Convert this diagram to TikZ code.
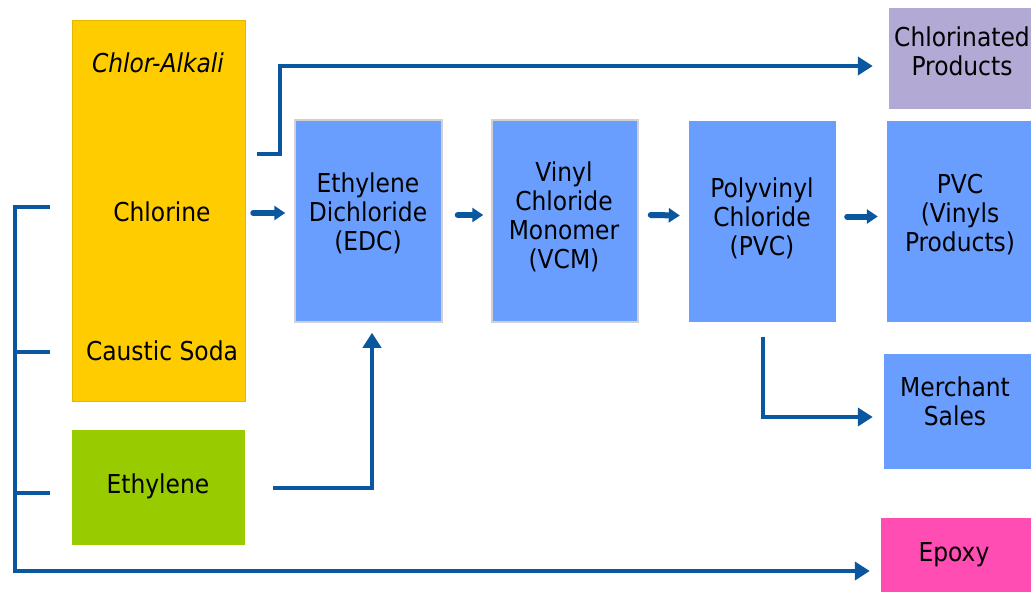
\documentclass[tikz,border=0pt]{standalone}
\usepackage{fontspec}
\setmainfont{DejaVu Sans Condensed}
\usetikzlibrary{calc}
\usetikzlibrary{arrows.meta}
\definecolor{alkali}{HTML}{FFCC00}
\definecolor{olefin}{HTML}{99CC00}
\definecolor{vinyl}{HTML}{699EFF}
\definecolor{chlor}{HTML}{B2A9D5}
\definecolor{epoxy}{HTML}{FF4DB3}
\definecolor{pipe}{HTML}{0B579F}
\tikzset{
  unit/.style={minimum width=#1, inner sep=0pt},
  txt/.style={inner sep=0pt, align=center, font=\fontsize{26}{29}\selectfont},
  flow/.style={draw=pipe, line width=4pt, -{Triangle[length=15pt,width=18pt]}},
  stub/.style={draw=pipe, line width=6pt, line cap=round, -{Triangle[length=11pt,width=14pt]}}
}

\begin{document}
\begin{tikzpicture}[x=1pt, y=-1pt]
            \useasboundingbox (0,0) rectangle (1031,592);
            % feedstocks
            \node[unit=173, minimum height=381, fill=alkali, draw=alkali!90!black, line width=0.8pt] (alk) at (158.5,210.5) {};
            \node[txt, font=\fontsize{26}{29}\selectfont\itshape] (alkt) at (158,63) {Chlor-Alkali};
            \node[txt] (cl) at (162,212) {Chlorine};
            \node[txt] (naoh) at (162,351) {Caustic Soda};
            \node[unit=173, minimum height=115, fill=olefin] (eth) at (158.5,487.5) {};
            \node[txt] (etht) at (158,486) {Ethylene};
            % vinyl chain
            \node[unit=147, minimum height=202, fill=vinyl, draw=black!18, line width=1.5pt] (edc) at (368.5,221) {};
            \node[txt] (edct) at (368,213) {Ethylene\\Dichloride\\(EDC)};
            \node[unit=146, minimum height=202, fill=vinyl, draw=black!18, line width=1.5pt] (vcm) at (565,221) {};
            \node[txt] (vcmt) at (564,217) {Vinyl\\Chloride\\Monomer\\(VCM)};
            \node[unit=147, minimum height=201, fill=vinyl] (pvc) at (762.5,221.5) {};
            \node[txt] (pvct) at (762,218) {Polyvinyl\\Chloride\\(PVC)};
            \node[unit=144, minimum height=201, fill=vinyl] (vprod) at (959,221.5) {};
            \node[txt] (vprodt) at (960,215) {PVC\\(Vinyls\\Products)};
            % outlets
            \node[unit=142, minimum height=101, fill=chlor] (chl) at (960,58.5) {};
            \node[txt] (chlt) at (962,51) {Chlorinated\\Products};
            \node[unit=147, minimum height=115, fill=vinyl] (mer) at (957.5,411.5) {};
            \node[txt] (mert) at (955,401) {Merchant\\Sales};
            \node[unit=150, minimum height=74, fill=epoxy] (epx) at (956,555) {};
            \node[txt] (epxt) at (954,555) {Epoxy};
            % connectors
            \coordinate (clout) at (257,154);
            \coordinate (brk) at (50,207);
            \draw[flow] (clout) -- ++(23,0) |- ($(chl.west)+(-16,7.5)$);
            \draw[stub] ($(edc.west)+(-41,-8)$) -- ($(edc.west)+(-9,-8)$);
            \draw[stub] ($(edc.east)+(15,-6)$) -- ($(vcm.west)+(-8,-6)$);
            \draw[stub] ($(vcm.east)+(12,-6)$) -- ($(pvc.west)+(-9,-6)$);
            \draw[stub] ($(pvc.east)+(11,-5)$) -- ($(vprod.west)+(-9,-5)$);
            \draw[flow] ($(eth.east)+(28,0.5)$) -| ($(edc.south)+(3.5,10)$);
            \draw[flow] ($(pvc.south)+(0,15)$) |- ($(mer.west)+(-11,5.5)$);
            \draw[flow] (brk) -- ++(-35,0) |- ($(epx.west)+(-11,16)$);
            \draw[pipe, line width=4pt] (15,352) -- (50,352);
            \draw[pipe, line width=4pt] (15,493) -- (50,493);
        \end{tikzpicture}
\end{document}
